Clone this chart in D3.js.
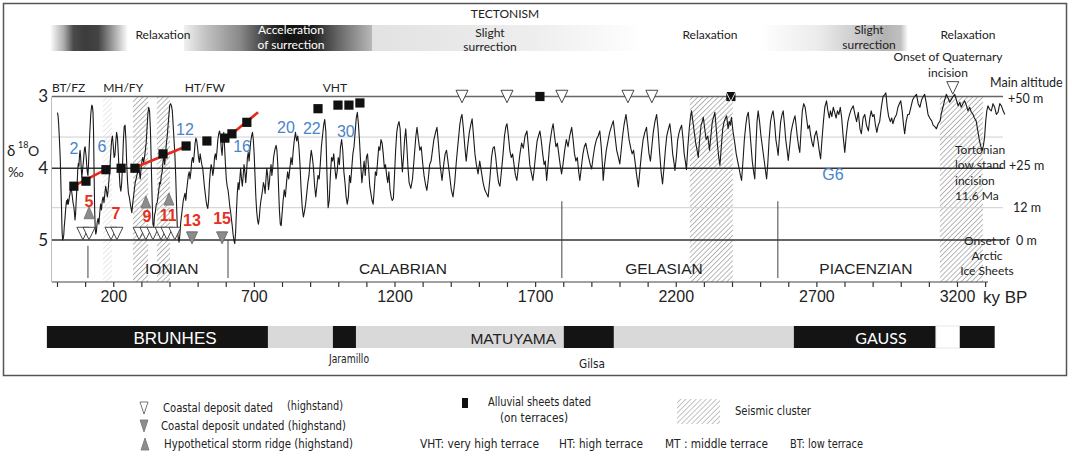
<!DOCTYPE html>
<html><head><meta charset="utf-8">
<script src="https://cdn.jsdelivr.net/npm/d3@7"></script>
<style>
body{margin:0;background:#fff}
svg{display:block}
.my{font-family:Lato,"Open Sans",sans-serif}
.ar{font-family:"Liberation Sans",Arial,sans-serif}
.cn{font-family:"Liberation Sans Narrow","DejaVu Sans Condensed","Liberation Sans",sans-serif}
</style>
</head><body>
<svg id="c" width="1072" height="457"></svg>
<script>
// ---------------- DATA ----------------
// benthic d18O stack: [age ky BP, d18O permil]
const d18oCurve = [
[0,3.23],[2,3.23],[4,3.28],[6,3.39],[8,3.55],[10,3.72],[12,3.92],[14,4.25],[16,4.55],[18,4.88],[20,5.0],[22,4.98],[24,4.93],[26,4.8],[28,4.72],[30,4.61],[32,4.52],[34,4.45],[36,4.5],[38,4.43],[40,4.5],[42,4.46],[44,4.4],[46,4.36],[48,4.3],[50,4.29],[52,4.32],[54,4.38],[56,4.45],[58,4.5],[60,4.54],[62,4.62],[64,4.72],[66,4.64],[68,4.47],[70,4.33],[72,4.18],[74,4.0],[76,3.93],[78,3.97],[80,3.82],[82,3.75],[84,3.84],[86,3.99],[88,4.12],[90,4.06],[92,3.98],[94,3.9],[96,3.8],[98,3.72],[100,3.7],[102,3.78],[104,3.85],[106,3.98],[108,4.06],[110,4.1],[112,3.95],[114,3.75],[116,3.55],[118,3.4],[120,3.25],[122,3.17],[124,3.12],[126,3.14],[128,3.22],[130,3.5],[132,4.1],[134,4.6],[136,4.85],[138,4.92],[140,4.88],
[143,4.75],[146,4.7],[149,4.78],[152,4.62],[155,4.5],[158,4.58],[161,4.45],[164,4.4],[167,4.48],[170,4.36],[173,4.25],[176,4.32],[179,4.4],[182,4.3],[185,4.15],[188,4.0],[191,3.8],[194,3.62],[197,3.55],[200,3.68],[203,3.85],[206,3.82],[209,3.63],[212,3.5],[215,3.58],[218,3.8],[221,4.05],[224,4.25],[227,4.32],[230,4.2],[233,3.95],[236,3.62],[239,3.42],[242,3.4],[245,3.6],[248,3.95],[251,4.2],[254,4.35],[257,4.4],[260,4.48],[263,4.55],[266,4.62],[269,4.5],[272,4.4],[275,4.3],[278,4.2],[281,4.15],[284,4.1],[287,4.05],[290,3.95],[293,4.05],[296,4.15],[299,4.0],
[302,3.9],[305,3.85],[308,3.92],[311,3.85],[314,3.75],[317,3.65],[320,3.45],[323,3.25],[326,3.15],[329,3.2],[332,3.45],[335,3.9],[338,4.4],[341,4.78],[344,4.82],[347,4.65],[350,4.6],[353,4.5],[356,4.48],[359,4.4],[362,4.3],[365,4.2],[368,4.22],[371,4.1],[374,4.05],[377,3.9],[380,3.85],[383,3.95],[386,3.8],[389,3.65],[392,3.55],[395,3.4],[398,3.25],[401,3.12],[404,3.1],[407,3.13],[410,3.2],[413,3.4],[416,3.6],[419,3.8],[422,4.1],[425,4.5],[428,4.85],[431,4.97],[434,5.03],[437,4.92],[440,4.75],[443,4.65],[446,4.55],[449,4.45],[452,4.4],[455,4.35],[458,4.45],[461,4.3],[464,4.2],[467,4.1],[470,4.05],[473,4.15],[476,4.05],[479,3.9],[482,3.85],[485,3.92],[488,3.8],[491,3.65],[494,3.58],[497,3.62],[500,3.72],
[503,3.85],[506,3.92],[509,3.8],[512,3.88],[515,3.95],[518,4.0],[521,4.12],[524,4.25],[527,4.35],[530,4.45],[533,4.52],[536,4.56],[539,4.45],[542,4.2],[545,4.05],[548,3.95],[551,4.0],[554,4.1],[557,4.02],[560,3.85],[563,3.8],[566,3.88],[569,3.75],[572,3.6],[575,3.52],[578,3.48],[581,3.55],[584,3.72],[587,3.82],[590,3.62],[593,3.5],[596,3.72],[599,3.95],[602,4.15],[605,4.25],[608,4.3],[611,4.4],[614,4.52],[617,4.6],[620,4.7],[623,4.8],[626,4.92],[629,5.0],[632,5.05],[635,4.9],[638,4.6],[641,4.35],[644,4.2],[647,4.3],[650,4.15],[653,4.0],[656,4.15],[659,4.25],[662,4.1],[665,3.95],[668,4.05],[671,4.2],[674,4.05],[677,3.85],[680,3.78],[683,3.9],[686,3.75],[689,3.62],[692,3.55],[695,3.5],[698,3.6],
[701,3.8],[704,4.1],[707,4.4],[710,4.6],[713,4.72],[716,4.78],[719,4.7],[722,4.55],[725,4.45],[728,4.38],[731,4.3],[734,4.2],[737,4.25],[740,4.35],[743,4.15],[746,4.0],[749,4.1],[752,4.3],[755,4.2],[758,4.05],[761,3.95],[764,4.1],[767,4.0],[770,3.85],[773,3.78],[776,3.72],[779,3.68],[782,3.75],[785,3.95],[788,4.3],[791,4.6],[794,4.78],[797,4.8],[800,4.65],
[804,4.45],[808,4.3],[812,4.4],[816,4.2],[820,4.05],[824,4.15],[828,4.0],[832,3.85],[836,3.95],[840,3.75],[844,3.6],[848,3.5],[852,3.62],[856,3.55],[860,3.7],[864,3.95],[868,4.3],[872,4.55],[876,4.68],[880,4.6],[884,4.5],[888,4.35],[892,4.2],[896,4.1],[900,3.9],[904,3.75],[908,3.85],[912,4.0],[916,4.25],[920,4.4],[924,4.25],[928,4.1],[932,4.15],[936,3.95],[940,3.7],[944,3.55],[948,3.4],[952,3.32],[956,3.5],[960,4.1],[964,4.55],[968,4.45],[972,4.1],[976,3.85],[980,3.9],[984,3.8],[988,4.0],[992,4.15],[996,4.05],[1000,3.85],
[1004,3.95],[1008,3.7],[1012,3.6],[1016,3.75],[1020,4.05],[1024,4.2],[1028,4.4],[1032,4.5],[1036,4.4],[1040,4.1],[1044,4.2],[1048,4.0],[1052,3.8],[1056,3.7],[1060,3.5],[1064,3.3],[1068,3.22],[1072,3.4],[1076,3.65],[1080,3.95],[1084,4.2],[1088,4.05],[1092,3.9],[1096,4.1],[1100,3.85],[1104,3.8],[1108,4.0],[1112,4.25],[1116,4.35],[1120,4.45],[1124,4.5],[1128,4.3],[1132,4.05],[1136,4.1],[1140,3.9],[1144,3.7],[1148,3.75],[1152,3.6],[1156,3.65],[1160,3.8],[1164,4.0],[1168,3.95],[1172,4.1],[1176,4.2],[1180,4.05],[1184,4.3],[1188,4.4],[1192,4.45],[1196,4.42],[1200,4.1],
[1204,3.75],[1208,3.5],[1212,3.4],[1216,3.35],[1220,3.45],[1224,3.8],[1228,4.05],[1232,3.85],[1236,3.6],[1240,3.45],[1244,3.7],[1248,4.0],[1252,4.2],[1258,4.28],[1264,4.15],[1270,3.85],[1276,3.55],[1280,3.43],[1285,3.6],[1290,3.75],[1295,3.7],[1300,3.92],[1305,4.1],[1310,4.22],[1315,4.31],[1320,4.15],[1325,3.95],[1330,3.9],[1335,3.75],[1340,3.6],[1346,3.5],[1351,3.43],[1356,3.65],[1362,3.95],[1369,4.17],[1375,3.95],[1380,3.8],[1385,3.75],[1390,3.9],[1396,4.1],[1402,4.3],[1408,4.4],[1414,4.2],[1420,3.9],[1426,3.65],[1432,3.4],[1436,3.3],[1440,3.25],[1445,3.45],[1450,3.7],[1455,3.9],[1460,3.7],[1466,3.5],[1471,3.4],[1476,3.31],[1481,3.55],[1486,3.8],[1491,3.95],[1497,4.08],
[1503,3.9],[1509,4.05],[1515,4.2],[1521,4.3],[1527,4.35],[1533,4.4],[1539,4.15],[1545,3.85],[1550,3.72],[1555,3.7],[1560,3.85],[1565,4.05],[1570,4.2],[1575,4.25],[1580,4.05],[1586,3.8],[1591,3.55],[1596,3.42],[1600,3.38],[1605,3.55],[1610,3.75],[1615,3.85],[1620,3.8],[1625,3.95],[1630,4.1],[1635,4.17],[1640,4.0],[1646,3.8],[1652,3.65],[1658,3.72],[1664,3.55],[1671,3.48],[1676,3.7],[1681,3.95],[1686,4.05],[1692,4.17],[1697,4.0],[1702,3.8],[1707,3.62],[1712,3.55],[1717,3.48],[1722,3.62],[1727,3.8],[1732,3.95],[1736,3.9],[1741,4.17],[1746,3.95],[1751,3.7],[1756,3.55],[1760,3.45],[1764,3.38],[1769,3.55],[1774,3.7],[1779,3.65],[1784,3.8],[1789,3.95],[1794,4.08],[1799,3.95],
[1805,3.75],[1811,3.6],[1817,3.7],[1823,3.55],[1830,3.43],[1835,3.6],[1840,3.8],[1845,3.9],[1850,3.85],[1855,4.05],[1859,4.17],[1864,4.0],[1870,3.8],[1875,3.7],[1880,3.65],[1885,3.75],[1890,3.85],[1896,3.95],[1901,4.01],[1906,3.85],[1912,3.7],[1918,3.6],[1924,3.55],[1930,3.48],[1935,3.7],[1940,4.0],[1942,4.17],[1947,3.95],[1953,3.75],[1960,3.6],[1965,3.5],[1971,3.42],[1978,3.34],[1984,3.55],[1990,3.75],[1996,3.85],[2001,3.94],[2006,3.75],[2011,3.55],[2016,3.4],[2023,3.25],[2028,3.4],[2034,3.6],[2040,3.72],[2045,3.8],[2050,3.75],[2055,3.9],[2061,4.1],[2067,4.26],[2072,4.05],[2078,3.8],[2084,3.6],[2090,3.5],[2096,3.43],
[2100,3.6],[2105,3.8],[2110,3.9],[2115,3.7],[2120,3.5],[2126,3.35],[2132,3.25],[2137,3.45],[2142,3.75],[2148,4.05],[2153,4.22],[2158,4.0],[2163,3.75],[2168,3.55],[2174,3.45],[2179,3.38],[2184,3.55],[2189,3.8],[2193,3.9],[2197,4.03],[2202,3.85],[2207,3.6],[2212,3.5],[2216,3.45],[2221,3.4],[2226,3.6],[2230,3.8],[2234,3.9],[2238,4.02],[2243,3.7],[2248,3.45],[2252,3.3],[2256,3.2],[2261,3.35],[2266,3.5],[2271,3.65],[2276,3.75],[2280,3.85],[2285,3.6],[2290,3.4],[2294,3.35],[2298,3.29],
[2303,3.45],[2308,3.6],[2314,3.55],[2320,3.75],[2325,3.55],[2330,3.35],[2335,3.28],[2339,3.22],[2344,3.45],[2349,3.7],[2353,3.85],[2357,3.96],[2362,3.7],[2367,3.45],[2372,3.35],[2377,3.3],[2381,3.27],[2386,3.45],[2390,3.35],[2394,3.4],[2398,3.29],[2404,3.5],[2410,3.65],[2415,3.8],[2420,3.9],[2425,4.0],[2430,4.1],[2434,4.17],[2439,3.9],[2444,3.6],[2449,3.4],[2453,3.28],[2458,3.22],[2463,3.45],[2468,3.7],[2472,3.9],[2477,4.05],[2481,4.15],[2485,3.7],[2489,3.35],[2493,3.2],[2498,3.35],
[2503,3.55],[2508,3.7],[2513,3.85],[2518,4.0],[2523,4.15],[2527,3.95],[2532,3.6],[2537,3.35],[2542,3.25],[2546,3.2],[2551,3.35],[2556,3.6],[2560,3.7],[2564,3.82],[2569,3.55],[2573,3.35],[2578,3.25],[2582,3.2],[2587,3.4],[2591,3.6],[2596,3.75],[2600,3.89],[2605,3.7],[2610,3.5],[2615,3.4],[2620,3.32],[2624,3.27],[2628,3.4],[2632,3.55],[2637,3.7],[2641,3.78],[2646,3.45],[2650,3.2],[2655,3.1],[2660,3.15],[2665,3.3],[2670,3.45],[2675,3.4],[2680,3.55],[2685,3.65],[2689,3.7],[2694,3.55],[2700,3.48],
[2705,3.6],[2710,3.75],[2715,3.87],[2720,3.6],[2725,3.35],[2730,3.15],[2736,3.06],[2741,3.2],[2746,3.3],[2750,3.2],[2755,3.28],[2760,3.15],[2765,3.22],[2770,3.3],[2775,3.2],[2780,3.25],[2785,3.15],[2790,3.3],[2795,3.55],[2801,3.78],[2806,3.55],[2812,3.35],[2818,3.25],[2824,3.18],[2831,3.13],[2837,3.25],[2843,3.35],[2849,3.22],[2855,3.45],[2860,3.52],[2866,3.3],[2872,3.25],[2878,3.4],[2885,3.48],[2890,3.3],[2895,3.2],[2900,3.28],
[2905,3.25],[2910,3.4],[2915,3.5],[2920,3.4],[2925,3.35],[2931,3.15],[2937,3.0],[2942,2.98],[2947,2.95],[2952,3.15],[2957,3.28],[2963,3.35],[2968,3.3],[2972,3.38],[2978,3.3],[2985,3.25],[2990,3.15],[2995,3.1],[3000,3.06],[3005,3.2],[3010,3.4],[3014,3.52],[3019,3.35],[3025,3.25],[3030,3.25],[3036,3.15],[3042,3.05],[3049,3.0],[3056,2.97],[3062,3.1],[3068,3.15],[3074,3.05],[3080,3.0],[3085,2.97],[3091,3.1],[3097,3.25],
[3103,3.3],[3110,3.34],[3115,3.4],[3121,3.42],[3127,3.45],[3133,3.38],[3140,3.34],[3145,3.22],[3150,3.15],[3156,3.05],[3162,2.97],[3168,3.02],[3174,3.08],[3180,3.04],[3186,3.0],[3192,2.97],[3198,3.05],[3204,3.13],[3210,3.08],[3215,3.15],[3221,3.1],[3227,3.06],[3233,3.12],[3239,3.2],[3245,3.15],[3251,3.22],[3257,3.25],[3262,3.3],[3268,3.34],[3274,3.48],[3280,3.62],[3285,3.7],[3290,3.75],[3294,3.68],[3298,3.57],[3302,3.35],[3306,3.2],[3310,3.13],[3316,3.18],[3322,3.2],[3328,3.1],[3334,3.15],[3340,3.25],[3346,3.22],[3352,3.1],[3358,3.13],[3364,3.2],[3370,3.25]
];

// x axis
const tickAges = [0,100,200,300,400,500,600,700,800,900,1000,1100,1200,1300,1400,1500,1600,1700,1800,1900,2000,2100,2200,2300,2400,2500,2600,2700,2800,2900,3000,3100,3200,3300];
const tickLabels = [200,700,1200,1700,2200,2700,3200];
const d18oTicks = [3,4,5];
const greyLevels = [3.565,4.55];
const altitudeLabels = [["+50 m",3.04,1008],["+25 m",3.97,1009],["12 m",4.55,1013],["0 m",5.01,1016]];

// marker data [age, d18O]
const alluvialSheets = [[60,4.25],[103,4.18],[174,4.02],[228,4.0],[277,4.0],[377,3.8],[459,3.69],[533,3.62],[597,3.58],[622,3.52],[675,3.36],[928,3.17],[999,3.12],[1038,3.12],[1077,3.09],[1717,3.0],[2396,3.0]];
const upliftLines = [[[53,4.26],[178,4.01]],[[284,3.98],[462,3.69]],[[604,3.58],[715,3.22]]];
const coastalDated = [[92,4.91],[114,4.91],[192,4.91],[213,4.91],[292,4.91],[316,4.91],[341,4.91],[370,4.91],[391,4.91],[419,4.91],[1440,3.0],[1600,3.0],[1795,3.0],[2030,3.0],[2115,3.0],[2396,3.0],[3185,2.88]];
const coastalUndated = [[480,4.97],[587,4.97]];
const stormRidges = [[114,4.62],[316,4.47],[398,4.43]];
const seismicClusters = [[164,196,true],[270,324,false],[355,402,false],[2250,2403,false],[3139,3292,false]];
const stageBounds = [[110,5.08],[608,5.0],[1795,4.46],[2563,4.46]];
const stages = [["IONIAN",408],["CALABRIAN",1230],["GELASIAN",2158],["PIACENZIAN",2876]];
const terraceLabels = [["BT/FZ",-18,"start"],["MH/FY",164,"start"],["HT/FW",526,"middle"],["VHT",988,"middle"]];
const glacialStages = [["2",60,3.72],["6",160,3.69],["12",455,3.45],["16",658,3.69],["20",814,3.42],["22",906,3.44],["30",1027,3.48],["G6",2759,4.08]];
const interglacialStages = [["5",114,4.46],["7",210,4.62],["9",320,4.66],["11",395,4.65],["13",480,4.72],["15",587,4.69]];
// polarity chrons [start ky, end ky, type]
const polarity = [[-36,750,"n"],[750,981,"r"],[981,1063,"n"],[1063,1802,"r"],[1802,1980,"n"],[1980,2620,"r"],[2620,3125,"n"],[3125,3210,"w"],[3210,3334,"n"]];

// ---------------- DRAW ----------------
const svg = d3.select("#c");
const x = d3.scaleLinear().domain([0,3200]).range([57,957]);
const y = d3.scaleLinear().domain([3,5]).range([96.5,240]);
const axisY = 282;
const defs = svg.append("defs");

function hatch(id, col){
  const p = defs.append("pattern").attr("id",id).attr("patternUnits","userSpaceOnUse")
    .attr("width",3.6).attr("height",3.6).attr("patternTransform","rotate(45)");
  p.append("line").attr("x1",0).attr("y1",-1).attr("x2",0).attr("y2",5).attr("stroke",col).attr("stroke-width",0.8);
}
hatch("hd","#4a4a4a"); hatch("hl","#c4c4c4"); hatch("hg","#6a6a6a");

function grad(id,x1,x2,stops){
  const g = defs.append("linearGradient").attr("id",id).attr("gradientUnits","userSpaceOnUse")
    .attr("x1",x1).attr("x2",x2).attr("y1",0).attr("y2",0);
  stops.forEach(s=>g.append("stop").attr("offset",s[0]).attr("stop-color",s[1]));
}
grad("g1",50,128,[[0,"#fff"],[0.18,"#aaa"],[0.3,"#4a4a4a"],[0.45,"#3c3c3c"],[0.62,"#444"],[0.76,"#888"],[1,"#fff"]]);
grad("g2",184,372,[[0,"#f0f0f0"],[0.1,"#c8c8c8"],[0.3,"#888"],[0.47,"#2a2a2a"],[0.55,"#111"],[0.68,"#1c1c1c"],[0.82,"#666"],[1,"#b8b8b8"]]);
grad("g2b",372,645,[[0,"#e2e2e2"],[0.6,"#eeeeee"],[1,"#fff"]]);
grad("g3",760,908,[[0,"#fff"],[0.4,"#ebebeb"],[0.85,"#b3b3b3"],[0.95,"#c0c0c0"],[1,"#fff"]]);

// frame
svg.append("rect").attr("x",3.5).attr("y",3.5).attr("width",1063).attr("height",372)
  .attr("fill","none").attr("stroke","#555").attr("stroke-width",1.5);

// tectonism band
svg.append("rect").attr("x",50).attr("y",25).attr("width",78).attr("height",26).attr("fill","url(#g1)");
svg.append("rect").attr("x",184).attr("y",25).attr("width",188).attr("height",26).attr("fill","url(#g2)");
svg.append("rect").attr("x",372).attr("y",25).attr("width",273).attr("height",26).attr("fill","url(#g2b)");
svg.append("rect").attr("x",760).attr("y",25).attr("width",148).attr("height",26).attr("fill","url(#g3)");

function txt(s,px,py,opt={}){
  const t = svg.append("text").attr("x",px).attr("y",py).text(s)
    .attr("class",opt.cls||"my").attr("font-size",opt.fs||12)
    .attr("text-anchor",opt.anchor||"middle").attr("fill",opt.fill||"#222")
    .attr("font-weight",opt.fw||"normal");
  if(opt.len) t.attr("textLength",opt.len).attr("lengthAdjust","spacingAndGlyphs");
  return t;
}
txt("TECTONISM",505,18,{fs:12});
txt("Relaxation",163,39);
txt("Acceleration",291,34,{fill:"#fff"});
txt("of surrection",291,49,{fill:"#fff"});
txt("Slight",490,37);
txt("surrection",490,51);
txt("Relaxation",710,39);
txt("Slight",869,34);
txt("surrection",869,49);
txt("Relaxation",968,39);
txt("Onset of Quaternary",948,61);
txt("incision",948,77);
txt("Main altitude",990,87,{anchor:"start",fs:12.5});

// seismic clusters
seismicClusters.forEach(c=>{
  svg.append("rect").attr("x",x(c[0])).attr("y",y(3)).attr("width",x(c[1])-x(c[0]))
    .attr("height",axisY-y(3)).attr("fill",c[2]?"url(#hl)":"url(#hd)");
});

// left light frame line
svg.append("line").attr("x1",51.5).attr("x2",51.5).attr("y1",y(3)).attr("y2",axisY).attr("stroke","#bdbdbd").attr("stroke-width",1);

// grey reference lines
greyLevels.forEach(v=>svg.append("line").attr("x1",52).attr("x2",1003).attr("y1",y(v)).attr("y2",y(v)).attr("stroke","#cfcfcf").attr("stroke-width",1));
// main lines
d18oTicks.forEach(v=>svg.append("line").attr("x1",52).attr("x2",1003).attr("y1",y(v)).attr("y2",y(v))
  .attr("stroke",v===3?"#666":"#333").attr("stroke-width",1.3));

// stage boundaries
stageBounds.forEach(b=>svg.append("line").attr("x1",x(b[0])).attr("x2",x(b[0])).attr("y1",y(b[1])).attr("y2",278).attr("stroke","#444").attr("stroke-width",1));
stages.forEach(s=>txt(s[0],x(s[1]),274,{cls:"ar",fs:15.5}));

// curve
svg.append("path").datum(d18oCurve).attr("fill","none").attr("stroke","#1a1a1a").attr("stroke-width",1.1)
  .attr("stroke-linejoin","round")
  .attr("d",d3.line().x(d=>x(d[0])).y(d=>y(d[1])));

// y labels
const yAx = svg.append("g").attr("transform","translate(48,0)")
  .call(d3.axisLeft(y).tickValues(d18oTicks).tickSize(0).tickFormat(d3.format("d")));
yAx.select(".domain").remove();
yAx.selectAll("text").attr("font-family","Lato,'Open Sans',sans-serif").attr("font-size",17).attr("fill","#222").attr("x",0);
txt("δ",7,156,{anchor:"start",fs:15});
txt("18",18,148,{anchor:"start",fs:9});
txt("O",28,156,{anchor:"start",fs:14});
txt("‰",8,177,{anchor:"start",fs:13.5});

// altitude labels
altitudeLabels.forEach(a=>txt(a[0],a[2],y(a[1])+4,{anchor:"start",fs:12.5}));
[["Tortonian",150],["low stand",165],["incision",181],["11,6 Ma",196]].forEach(t=>txt(t[0],955,t[1]+4,{anchor:"start",fs:12}));
[["Onset of",241],["Arctic",256],["Ice Sheets",271]].forEach(t=>txt(t[0],987,t[1]+4,{fs:12}));

// terrace labels
terraceLabels.forEach(t=>txt(t[0],x(t[1]),92,{anchor:t[2],fs:12}));

// x axis
const xAx = svg.append("g").attr("transform",`translate(0,${axisY})`)
  .call(d3.axisBottom(x).tickValues(tickAges).tickSize(5).tickFormat(d=>tickLabels.includes(d)?d:""));
xAx.select(".domain").remove();
xAx.selectAll(".tick line").attr("stroke","#333").attr("stroke-width",1.2);
xAx.selectAll("text").attr("font-family","'Liberation Sans',Arial,sans-serif").attr("font-size",16).attr("fill","#222").attr("y",9);
svg.append("line").attr("x1",52).attr("x2",988).attr("y1",axisY).attr("y2",axisY).attr("stroke","#444").attr("stroke-width",1.2);
txt("ky BP",983,303,{cls:"ar",fs:17,anchor:"start"});

// uplift lines
upliftLines.forEach(l=>svg.append("path").datum(l).attr("fill","none").attr("stroke","#e8281c").attr("stroke-width",2.6)
  .attr("d",d3.line().x(d=>x(d[0])).y(d=>y(d[1]))));

// triangles
function tri(cx,cy,w,h,down,fill,stroke){
  const p = down? [[cx-w/2,cy-h/2],[cx+w/2,cy-h/2],[cx,cy+h/2]] : [[cx-w/2,cy+h/2],[cx+w/2,cy+h/2],[cx,cy-h/2]];
  svg.append("polygon").attr("points",p.map(q=>q.join(",")).join(" ")).attr("fill",fill).attr("stroke",stroke).attr("stroke-width",0.9);
}
alluvialSheets.forEach(d=>svg.append("rect").attr("x",x(d[0])-4.6).attr("y",y(d[1])-4.6).attr("width",9.2).attr("height",9.2).attr("fill","#111"));
coastalDated.forEach(d=>{
  if(d[0]===2396){ tri(x(d[0]),y(d[1]),10,10,true,"none","#fff"); }
  else tri(x(d[0]),y(d[1]),12,12.5,true,"#fff","#333");
});
coastalUndated.forEach(d=>tri(x(d[0]),y(d[1]),11,12,true,"#8c8c8c","#666"));
stormRidges.forEach(d=>tri(x(d[0]),y(d[1]),10,12,false,"#8c8c8c","#777"));

// MIS numbers
glacialStages.forEach(g=>txt(g[0],x(g[1]),y(g[2])+6,{cls:"ar",fs:16,fill:"#4a84c9"}));
interglacialStages.forEach(g=>txt(g[0],x(g[1]),y(g[2])+6,{cls:"ar",fs:16,fill:"#e4321e",fw:"bold"}));

// polarity bar
const pc = {n:"#141414",r:"#d9d9d9",w:"#fff"};
polarity.forEach(p=>svg.append("rect").attr("x",x(p[0])).attr("y",326).attr("width",x(p[1])-x(p[0])).attr("height",22)
  .attr("fill",pc[p[2]]).attr("stroke",p[2]==="w"?"#e2e2e2":"none").attr("stroke-width",0.8));
txt("BRUNHES",175,344,{cls:"ar",fs:17,fill:"#fff"});
txt("MATUYAMA",556,344,{cls:"ar",fs:15.5,anchor:"end"});
txt("GAUSS",881,344,{fs:16,fill:"#fff"});
txt("Jaramillo",349,363,{cls:"cn",fs:12,len:40});
txt("Gilsa",592,368,{cls:"cn",fs:12,len:26});

// legend
function ltri(cx,cy,down,fill){
  const w=8,h=12;
  const p = down? [[cx-w/2,cy-h/2],[cx+w/2,cy-h/2],[cx,cy+h/2]] : [[cx-w/2,cy+h/2],[cx+w/2,cy+h/2],[cx,cy-h/2]];
  svg.append("polygon").attr("points",p.map(q=>q.join(",")).join(" ")).attr("fill",fill).attr("stroke",down&&fill==="#fff"?"#555":"#777").attr("stroke-width",0.8);
}
ltri(144,408,true,"#fff"); ltri(144,426,true,"#8c8c8c"); ltri(145,444,false,"#8c8c8c");
const L = {cls:"cn",anchor:"start",fs:12.5};
txt("Coastal deposit dated",163,412,{...L,len:110});
txt("(highstand)",287,410,{...L,len:56});
txt("Coastal deposit  undated (highstand)",161,430,{...L,len:185});
txt("Hypothetical storm ridge (highstand)",164,448,{...L,len:189});
svg.append("rect").attr("x",462).attr("y",398).attr("width",6).attr("height",10).attr("fill","#111");
txt("Alluvial sheets dated",488,406,{...L,len:103});
txt("(on terraces)",500,422,{...L,len:68});
svg.append("rect").attr("x",677).attr("y",399).attr("width",43).attr("height",25).attr("fill","url(#hg)");
txt("Seismic  cluster",735,415,{...L,len:76});
txt("VHT: very high terrace",420,448,{...L,len:119});
txt("HT: high terrace",559,448,{...L,len:84});
txt("MT : middle terrace",665,448,{...L,len:103});
txt("BT: low terrace",790,448,{...L,len:73});
</script>
</body></html>
